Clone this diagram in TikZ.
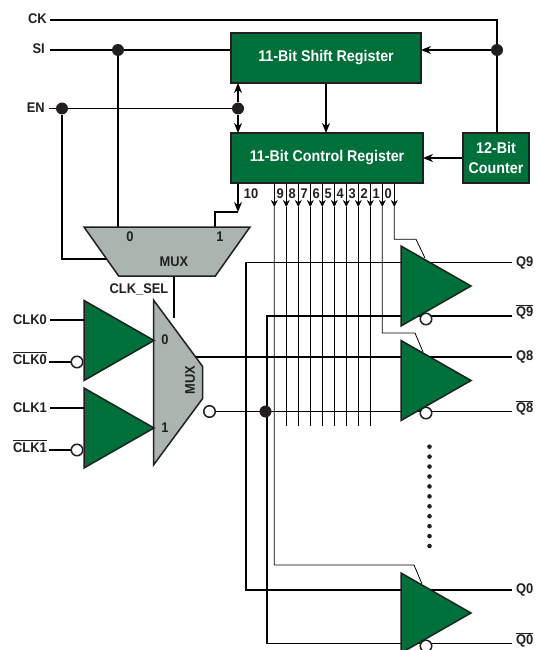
\documentclass[tikz,border=0pt]{standalone}
\usepackage{fontspec}
\setmainfont{Liberation Sans}[FakeStretch=0.92]
\usepackage{amsmath}
\usepackage{tikz}
\usetikzlibrary{arrows.meta,positioning,calc,shapes.geometric,backgrounds}
\definecolor{regGreen}{RGB}{0,112,58}
\definecolor{muxGray}{RGB}{169,181,174}
\definecolor{ink}{RGB}{35,31,32}

\begin{document}
\begin{tikzpicture}[
  x=1pt, y=-1pt, color=ink,
  lab/.style={font=\bfseries\fontsize{14}{15}\selectfont, text=ink, inner sep=0pt},
  reg/.style={draw=ink, line width=1.8pt, fill=regGreen, text=white, align=center,
              inner sep=0pt, outer sep=0pt, font=\bfseries\fontsize{15.5}{20}\selectfont},
  buf/.style={draw=ink, line width=1.5pt, fill=regGreen, isosceles triangle,
              isosceles triangle stretches, minimum height=70pt, minimum width=80pt,
              inner sep=0pt, outer sep=0pt, anchor=lower side},
  mux/.style={draw=ink, line width=1.5pt, fill=muxGray, trapezium, trapezium stretches=true,
              trapezium angle=49.4, inner sep=0pt, outer sep=0pt},
  dot/.style={circle, fill=ink, inner sep=0pt, minimum size=12pt},
  bub/.style={circle, draw=ink, line width=1.5pt, fill=white, inner sep=0pt, minimum size=11.5pt},
  wire/.style={line width=1.6pt},
  bitline/.style={line width=0.8pt},
  arrow/.style={-{Stealth[length=10pt, width=8pt]}, line width=1.6pt},
  bitarrow/.style={-{Stealth[length=7pt, width=7pt]}, line width=0.8pt},
]
  \clip (0, 0) rectangle (540, 650);

  % Registers
  \node[reg, minimum width=190pt, minimum height=50pt] (shift) at (326, 58)
    {11-Bit Shift Register};
  \node[reg, minimum width=192pt, minimum height=50pt] (ctrl) at (327, 158)
    {11-Bit Control Register};
  \node[reg, minimum width=66pt, minimum height=50pt] (count) at (496, 158)
    {12-Bit\\Counter};

  % Input labels
  \node[lab, anchor=east] (ck) at (47, 19) {CK};
  \node[lab, anchor=east] (si) at (45, 49) {SI};
  \node[lab, anchor=east] (en) at (45, 108) {EN};
  \node[lab, anchor=east] (clk0) at (47, 320) {CLK0};
  \node[lab, anchor=east] (clk0n) at (47, 358) {$\overline{\mbox{CLK0}}$};
  \node[lab, anchor=east] (clk1) at (47, 408) {CLK1};
  \node[lab, anchor=east] (clk1n) at (47, 446) {$\overline{\mbox{CLK1}}$};

  % Output labels
  \node[lab, anchor=west] (q9) at (516, 262.5) {Q9};
  \node[lab, anchor=west] (q9n) at (516, 312) {$\overline{\mbox{Q9}}$};
  \node[lab, anchor=west] (q8) at (516, 357) {Q8};
  \node[lab, anchor=west] (q8n) at (516, 408) {$\overline{\mbox{Q8}}$};
  \node[lab, anchor=west] (q0) at (516, 590) {Q0};
  \node[lab, anchor=west] (q0n) at (516, 640) {$\overline{\mbox{Q0}}$};

  % Muxes
  \node[mux, minimum width=166pt, minimum height=49pt, shape border rotate=180] (muxTop) at (167, 251.5) {\phantom{.}};
  \node[mux, minimum width=165pt, minimum height=49pt, shape border rotate=270] (muxClk) at (178, 382.5) {\phantom{.}};
  \node[lab] (muxTop0) at (130, 237) {0};
  \node[lab] (muxTop1) at (220, 237) {1};
  \node[lab] (muxTopName) at (174, 262) {MUX};
  \node[lab] (sel) at (139, 289) {CLK\_SEL};
  \node[lab] (muxClk0) at (165, 340) {0};
  \node[lab] (muxClk1) at (165, 428) {1};
  \node[lab, rotate=90] (muxClkName) at (190, 380) {MUX};

  % Buffers
  \node[buf] (bufClk0) at (84, 340.5) {\phantom{.}};
  \node[buf] (bufClk1) at (84, 428) {\phantom{.}};
  \node[buf] (buf9) at (401, 286) {\phantom{.}};
  \node[buf] (buf8) at (401, 380.5) {\phantom{.}};
  \node[buf] (buf0) at (401, 613) {\phantom{.}};

  % Bubbles and dots
  \node[bub] (bubClk0) at (77, 362) {};
  \node[bub] (bubClk1) at (77, 450) {};
  \node[bub] (bubMux) at (209.5, 411.5) {};
  \node[bub] (bub9) at (426, 319) {};
  \node[bub] (bub8) at (426, 413) {};
  \node[bub] (bub0) at (426, 646) {};
  \node[dot] (dotSI) at (118, 50) {};
  \node[dot] (dotEN) at (62, 108.5) {};
  \node[dot] (dotReg) at (238, 108.5) {};
  \node[dot] (dotCK) at (497, 50) {};
  \node[dot] (dotNeg) at (265.5, 411.5) {};
  \foreach \n in {0,...,10}
    \node[circle, fill=ink, inner sep=0pt, minimum size=4.6pt] (pause\n) at (429.5, 446.7+\n*9.93) {};

  % Bit numbers
  \node[lab] (bit10) at (251, 194) {10};
  \foreach \n [evaluate=\n as \x using 394.3-12*\n] in {0,...,9}
    \node[lab] (bit\n) at (\x-6, 194) {\n};

  % Bit line ends
  \foreach \n [evaluate=\n as \x using 394.3-12*\n] in {0,...,10} {
    \coordinate (tip\n) at (\x, 207);
    \coordinate (foot\n) at (\x, 426);
  }

  % Wire corners
  \coordinate (enIn) at (115, 259);
  \coordinate (tipMux) at (238, 212);
  \coordinate (bendTen) at (215, 212);
  \coordinate (inTen) at (215, 227);
  \coordinate (selOut) at (174, 276);
  \coordinate (selIn) at (174, 318);
  \coordinate (muxOut) at (195, 357);
  \coordinate (railP) at (246, 590);
  \coordinate (railN) at (267, 643.5);

  \begin{scope}[on background layer]
    % Clock and serial inputs
    \draw[wire] ($(ck.east)+(3, 1)$) -| (count.north -| dotCK);
    \draw[arrow] (dotCK) -- (shift.east |- dotCK);
    \draw[wire] ($(si.east)+(5, 1)$) -- (shift.west |- dotCK);
    \draw[wire] (dotSI) -- (dotSI |- muxTop.north);
    \draw[wire] ($(en.east)+(4, 0.5)$) -- (dotReg);
    \draw[wire] (dotEN) |- (enIn);
    \draw[arrow] (dotReg) -- (dotReg |- shift.south);
    \draw[arrow] (dotReg) -- (dotReg |- ctrl.north);
    \draw[arrow] (shift.south) -- (shift.south |- ctrl.north);
    \draw[arrow] (count) -- (ctrl.east);

    % Bit 10 to the upper mux
    \draw[arrow] (ctrl.south -| tipMux) -- (tipMux);
    \draw[wire] (tipMux) -- (bendTen) -- (inTen);
    \draw[wire] (selOut) -- (selIn);

    % Bit lines
    \foreach \n in {0,...,10}
      \draw[bitarrow] (tip\n |- ctrl.south) -- (tip\n);
    \foreach \n in {2,...,9}
      \draw[bitline] (tip\n) -- (foot\n);
    \draw[bitline] (tip0) -- ($(tip0)+(0, 32.3)$) -- (416, 239.3) -- (425, 258);
    \draw[bitline] (tip1) -- ($(tip1)+(0, 126)$) -- (415, 333) -- (423, 352);
    \draw[bitline] (tip10) -- ($(tip10)+(0, 358)$) -- (414, 565) -- (422, 584);

    % Clock inputs
    \draw[wire] ($(clk0.east)+(3, 0)$) -- (clk0 -| bufClk0);
    \draw[wire] ($(clk0n.east)+(2, 4)$) -- (bubClk0);
    \draw[wire] ($(clk1.east)+(3, 0)$) -- (clk1 -| bufClk1);
    \draw[wire] ($(clk1n.east)+(2, 4)$) -- (bubClk1);

    % Distribution to the outputs
    \draw[wire] (muxOut) -- ($(q8.west)+(-4, 0)$);
    \draw[wire] (bubMux) -- ($(q8n.west)+(-4, 3.5)$);
    \draw[wire] ($(q9.west)+(-4, 0)$) -| (railP) -- ($(q0.west)+(-4, 0)$);
    \draw[wire] ($(q9n.west)+(-4, 4)$) -| (railN) -- ($(q0n.west)+(-4, 3.5)$);
  \end{scope}
\end{tikzpicture}
\end{document}
